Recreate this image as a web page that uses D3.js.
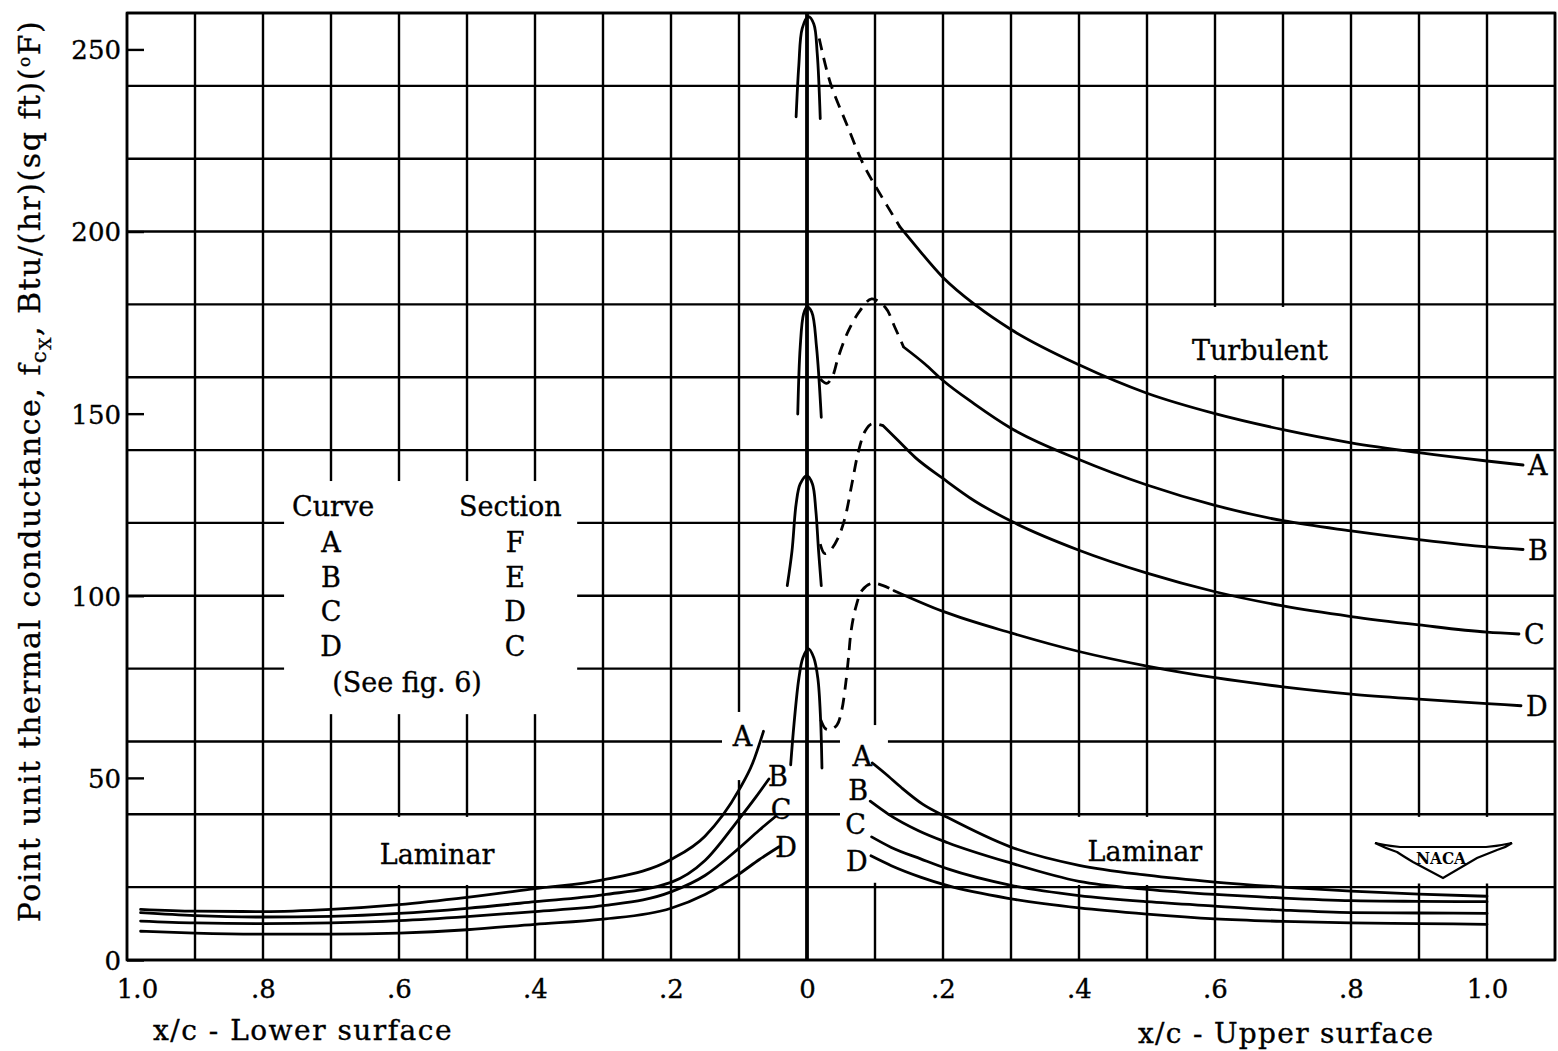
<!DOCTYPE html>
<html>
<head>
<meta charset="utf-8">
<script src="https://cdn.jsdelivr.net/npm/d3@7"></script>
<style>
  body { margin: 0; background: #fff; }
  text { font-family: "DejaVu Serif", serif; fill: #000; stroke: #000; stroke-width: 0.35px; }
</style>
</head>
<body>
<div id="chart"></div>
<script>
// x/c is signed: negative = lower surface (plotted to the left), positive = upper surface
const curveNames = ["A", "B", "C", "D"];
const sectionNames = ["F", "E", "D", "C"];
const yTickValues = [0, 50, 100, 150, 200, 250];
const xTickValues = [-1, -0.8, -0.6, -0.4, -0.2, 0, 0.2, 0.4, 0.6, 0.8, 1.0];
const xTickLabels = ["1.0", ".8", ".6", ".4", ".2", "0", ".2", ".4", ".6", ".8", "1.0"];

// laminar, lower surface (x/c measured positive, drawn to the left)
const lowerLaminar = [
  [[0.98,13.9],[0.9,13.4],[0.8,13.3],[0.7,13.9],[0.6,15.2],[0.5,17.2],[0.4,19.6],[0.3,22],[0.2,27.6],[0.15,34],[0.1,46.7],[0.08,54],[0.064,62.8]],
  [[0.98,13.0],[0.9,12.2],[0.8,11.8],[0.7,12.0],[0.6,12.8],[0.5,14.2],[0.4,16],[0.3,17.9],[0.2,21.3],[0.15,27.3],[0.1,38.7],[0.075,44.8],[0.056,49.7]],
  [[0.98,10.7],[0.9,10.2],[0.8,10.0],[0.7,10.2],[0.6,10.8],[0.5,11.9],[0.4,13.3],[0.3,14.9],[0.2,18.7],[0.15,23.2],[0.1,30.7],[0.07,35.7],[0.047,39.3]],
  [[0.98,7.9],[0.9,7.4],[0.8,7.1],[0.7,7.1],[0.6,7.4],[0.5,8.3],[0.4,9.8],[0.3,11.2],[0.2,14.2],[0.15,18],[0.1,23.6],[0.07,27.6],[0.041,31.1]]
];

// laminar, upper surface
const upperLaminar = [
  [[0.096,54.1],[0.115,51.2],[0.139,47.3],[0.17,42.8],[0.207,39.1],[0.3,31],[0.4,26],[0.5,23.3],[0.6,21.4],[0.7,20],[0.8,18.9],[0.9,18.1],[1.0,17.5]],
  [[0.093,43.6],[0.12,40],[0.164,35.5],[0.207,32.2],[0.3,26.6],[0.4,21.6],[0.5,19.4],[0.6,18],[0.7,17],[0.8,16.3],[0.9,16.1],[1.0,16]],
  [[0.095,33.8],[0.124,30.9],[0.168,27.7],[0.207,25],[0.3,20.5],[0.4,17.7],[0.5,16],[0.6,14.8],[0.7,13.7],[0.8,13],[0.9,12.9],[1.0,12.8]],
  [[0.094,28.6],[0.124,25.9],[0.168,22.7],[0.207,20.4],[0.3,16.8],[0.4,14.3],[0.5,12.6],[0.6,11.3],[0.7,10.6],[0.8,10.2],[0.9,10],[1.0,9.8]]
];

// peak at the stagnation point
const stagnation = [
  [[-0.016,231.5],[-0.012,245.7],[-0.007,255.8],[0.002,259],[0.01,257],[0.015,249],[0.0195,231]],
  [[-0.0136,149.9],[-0.01,168.3],[-0.005,177.4],[0,179.3],[0.007,177.9],[0.014,168.3],[0.021,149]],
  [[-0.029,102.8],[-0.022,112.4],[-0.016,125.2],[-0.01,130.7],[0,133],[0.008,130.7],[0.013,123.4],[0.017,112.4],[0.021,102.8]],
  [[-0.024,53.6],[-0.019,65],[-0.012,77.3],[-0.006,83],[0.002,85.5],[0.01,83],[0.016,77.3],[0.02,66],[0.022,52.7]]
];

// dashed transition region
const transition = [
  [[0.018,253],[0.034,241],[0.059,229.2],[0.083,218.4],[0.105,211.1],[0.137,201.2]],
  [[0.0195,159.5],[0.029,158.3],[0.037,160],[0.046,165.5],[0.061,172.8],[0.078,178.3],[0.095,181.5],[0.115,179.2],[0.129,173.8],[0.142,168.3]],
  [[0.0195,114.2],[0.026,111.6],[0.034,112.4],[0.046,116],[0.056,121.5],[0.066,130.7],[0.076,139.9],[0.086,145.4],[0.095,147.2],[0.112,146.7]],
  [[0.02,66],[0.027,63.5],[0.033,63.2],[0.044,64.5],[0.051,68.5],[0.057,76],[0.061,83],[0.065,90.5],[0.072,97],[0.081,101.5],[0.095,103.4],[0.112,102.8],[0.128,101.4]]
];

// turbulent, upper surface
const turbulent = [
  [[0.137,201.2],[0.16,196],[0.2,187.4],[0.25,179.5],[0.3,173.1],[0.4,163.4],[0.5,155.6],[0.6,150],[0.7,145.6],[0.8,142],[0.9,139.3],[1.0,137],[1.053,135.9]],
  [[0.142,168.3],[0.173,163.7],[0.2,159.1],[0.246,152.7],[0.3,146],[0.4,137.4],[0.5,130.4],[0.6,124.8],[0.7,120.6],[0.8,117.8],[0.9,115.4],[1.0,113.4],[1.053,112.7]],
  [[0.112,146.7],[0.134,142.6],[0.159,138],[0.2,132.2],[0.246,126.1],[0.3,120.5],[0.4,112.5],[0.5,106.2],[0.6,101.1],[0.7,97.2],[0.8,94.3],[0.9,92],[1.0,90],[1.047,89.5]],
  [[0.128,101.4],[0.2,95.7],[0.3,89.8],[0.4,84.7],[0.5,80.7],[0.6,77.5],[0.7,75],[0.8,73],[0.9,71.6],[1.0,70.4],[1.05,69.8]]
];

const width = 1558, height = 1051;

const x = d3.scaleLinear().domain([-1, 1.1]).range([127, 1555]);
const y = d3.scaleLinear().domain([0, 260]).range([960, 13]);

const svg = d3.select("#chart").append("svg")
  .attr("width", width)
  .attr("height", height);

svg.append("rect").attr("width", width).attr("height", height).attr("fill", "#fff");

// grid: every 0.1 x/c and every 20 units
const gridX = d3.range(-10, 12).map(i => i / 10);
const gridY = d3.range(0, 14).map(i => i * 20);

const grid = svg.append("g").attr("stroke", "#000").attr("stroke-width", 2.4);
grid.selectAll(".gx").data(gridX).enter().append("line")
  .attr("x1", d => x(d)).attr("x2", d => x(d))
  .attr("y1", y(260)).attr("y2", y(0))
  .attr("stroke-width", d => d === 0 ? 3.8 : 2.4);
grid.selectAll(".gy").data(gridY).enter().append("line")
  .attr("x1", x(-1)).attr("x2", x(1.1))
  .attr("y1", d => y(d)).attr("y2", d => y(d));

// white patches where the drawing leaves the grid open for lettering
const gaps = [
  [-0.769, -0.338, 131.5, 67.5],   // curve / section table
  [-0.65, -0.444, 39.3, 20.6],     // Laminar (lower)
  [0.384, 0.593, 39.3, 20.6],      // Laminar (upper)
  [0.822, 1.043, 39.3, 21.0],      // NACA mark
  [0.549, 0.784, 179.3, 160.6],    // Turbulent
  [-0.125, -0.066, 68.1, 49.4],    // label A, lower
  [0.0485, 0.119, 64.5, 21.2]      // labels A-D, upper
];
svg.append("g").selectAll("rect").data(gaps).enter().append("rect")
  .attr("x", d => x(d[0])).attr("width", d => x(d[1]) - x(d[0]))
  .attr("y", d => y(d[2])).attr("height", d => y(d[3]) - y(d[2]))
  .attr("fill", "#fff");

// y axis, ticks pointing into the plot
const yAxis = svg.append("g")
  .attr("transform", `translate(${x(-1)},0)`)
  .call(d3.axisLeft(y).tickValues(yTickValues).tickSize(-17).tickSizeOuter(0).tickPadding(6));
yAxis.select(".domain").remove();
yAxis.selectAll("line").attr("stroke", "#000").attr("stroke-width", 2.4);
yAxis.selectAll("text")
  .attr("font-family", "DejaVu Serif").attr("font-size", 26).attr("dy", "0.36em");

// x axis labels
const xAxis = svg.append("g")
  .attr("transform", `translate(0,${y(0)})`)
  .call(d3.axisBottom(x).tickValues(xTickValues)
    .tickFormat((d, i) => xTickLabels[i]).tickSize(0).tickPadding(20));
xAxis.select(".domain").remove();
xAxis.selectAll("text")
  .attr("font-family", "DejaVu Serif").attr("font-size", 26)
  .attr("dx", (d, i) => i === 0 ? 10 : 0);

// border
svg.append("rect")
  .attr("x", x(-1)).attr("y", y(260))
  .attr("width", x(1.1) - x(-1)).attr("height", y(0) - y(260))
  .attr("fill", "none").attr("stroke", "#000").attr("stroke-width", 2.6);

// curves
const smooth = d3.line()
  .x(d => x(d[0])).y(d => y(d[1]))
  .curve(d3.curveMonotoneX);
const sharp = d3.line()
  .x(d => x(d[0])).y(d => y(d[1]))
  .curve(d3.curveCatmullRom.alpha(0.5));

const curves = svg.append("g").attr("fill", "none").attr("stroke", "#000")
  .attr("stroke-width", 2.8).attr("stroke-linecap", "round");

curves.selectAll(".lower").data(lowerLaminar).enter().append("path")
  .attr("d", d => smooth(d.map(p => [-p[0], p[1]]).reverse()));
curves.selectAll(".upper").data(upperLaminar).enter().append("path")
  .attr("d", smooth);
curves.selectAll(".stag").data(stagnation).enter().append("path")
  .attr("d", sharp);
curves.selectAll(".trans").data(transition).enter().append("path")
  .attr("d", sharp)
  .attr("stroke-dasharray", "12,8")
  .attr("stroke-linecap", "butt");
curves.selectAll(".turb").data(turbulent).enter().append("path")
  .attr("d", smooth);

function label(g, tx, ty, str, anchor) {
  return g.append("text").attr("x", tx).attr("y", ty)
    .attr("font-size", 27).attr("text-anchor", anchor || "middle").text(str);
}

const labels = svg.append("g");

// curve letters at the leading edge, lower surface
const lowerOffsets = [[-21, 15], [9, 7], [6, 2], [7, 10]];
lowerLaminar.forEach((c, i) => {
  const e = c[c.length - 1];
  label(labels, x(-e[0]) + lowerOffsets[i][0], y(e[1]) + lowerOffsets[i][1], curveNames[i]);
});

// curve letters at the start of the upper surface
const upperOffsets = [[-10, 3], [-12, -1], [-16, -3], [-14, 15]];
upperLaminar.forEach((c, i) => {
  const s = c[0];
  label(labels, x(s[0]) + upperOffsets[i][0], y(s[1]) + upperOffsets[i][1], curveNames[i]);
});

// curve letters at the right-hand ends
turbulent.forEach((c, i) => {
  const e = c[c.length - 1];
  label(labels, x(e[0]) + 5, y(e[1]) + 10, curveNames[i], "start");
});

label(labels, x(0.666), y(164.7), "Turbulent");
label(labels, x(-0.544), y(26.4), "Laminar");
label(labels, x(0.497), y(27.2), "Laminar");

// curve / section table
const table = svg.append("g").attr("transform", "translate(292,516)");
label(table, 0, 0, "Curve", "start");
label(table, 167, 0, "Section", "start");
curveNames.forEach((c, i) => {
  label(table, 39, 36 + i * 34.5, c);
  label(table, 223, 36 + i * 34.5, sectionNames[i]);
});
label(table, 115, 176, "(See fig. 6)");

// NACA mark
const naca = svg.append("g").attr("transform", "translate(1443,858)");
naca.append("path")
  .attr("d", "M-68,-15 Q-55,-12 -43,-11 L43,-11 Q56,-12 69,-15 Q62,-10 54,-8 Q44,-4 34,0 L0,20 L-30,4 Q-40,-2 -46,-6 Q-58,-10 -68,-15 Z")
  .attr("fill", "#fff").attr("stroke", "#000").attr("stroke-width", 2.2);
naca.append("text").attr("x", -2).attr("y", 6)
  .attr("text-anchor", "middle")
  .attr("font-family", "DejaVu Sans Condensed, DejaVu Sans")
  .attr("font-weight", "bold").attr("font-size", 16)
  .attr("textLength", 50).attr("lengthAdjust", "spacingAndGlyphs")
  .style("stroke-width", "0px").text("NACA");

// axis titles
const yTitle = svg.append("text")
  .attr("transform", "translate(40,471) rotate(-90)")
  .attr("text-anchor", "middle").attr("font-size", 30)
  .attr("letter-spacing", 1.5);
yTitle.append("tspan").text("Point unit thermal conductance, f");
yTitle.append("tspan").attr("font-size", 21).attr("dy", 6).text("c");
yTitle.append("tspan").attr("font-size", 17).attr("dy", 5).text("X");
yTitle.append("tspan").attr("dy", -11).text(", Btu/(hr)(sq ft)(");
yTitle.append("tspan").attr("font-size", 17).attr("dy", -10).text("o");
yTitle.append("tspan").attr("dy", 10).text("F)");

svg.append("text").attr("x", 153).attr("y", 1040)
  .attr("font-size", 28).attr("letter-spacing", 1.5).text("x/c - Lower surface");
svg.append("text").attr("x", 1138).attr("y", 1043)
  .attr("font-size", 28).attr("letter-spacing", 1.3).text("x/c - Upper surface");
</script>
</body>
</html>
